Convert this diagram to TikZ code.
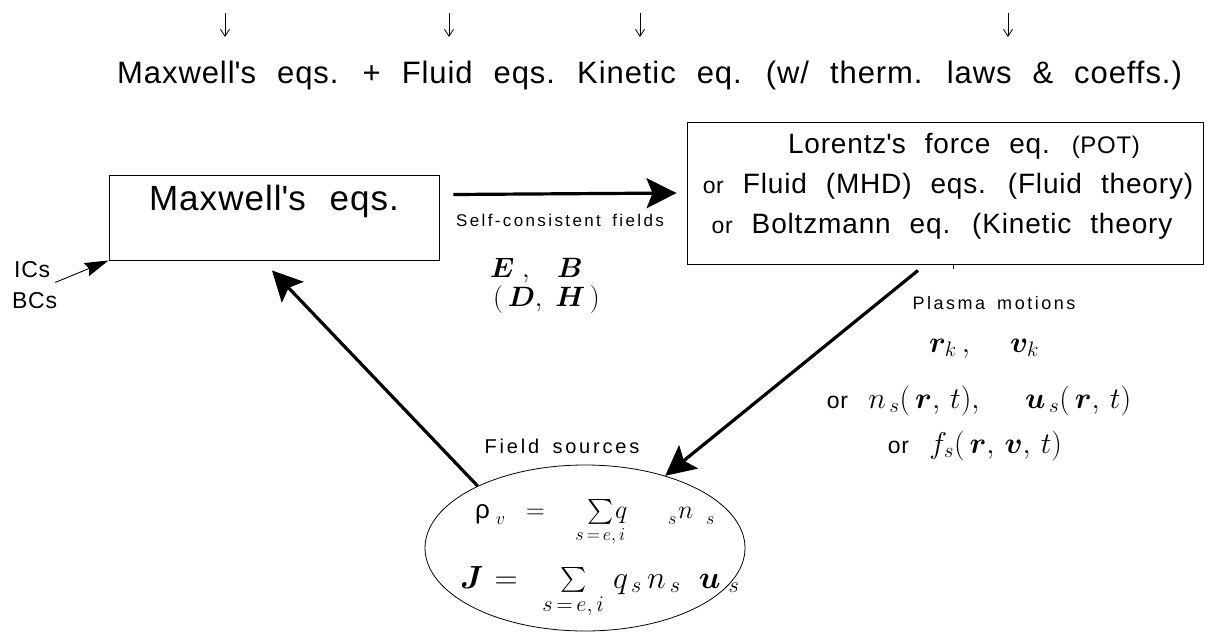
\RequirePackage{fix-cm}
\documentclass[tikz,border=0pt]{standalone}
\usepackage{amsmath,bm,exscale}
\usepackage[no-math]{fontspec}
\setmainfont{Liberation Sans}[WordSpace=2.2,LetterSpace=3]
\newfontfamily\smallsans{Liberation Sans}[WordSpace=1.6,LetterSpace=14]
\usetikzlibrary{arrows.meta,shapes.geometric}
\newcommand{\fsz}[2]{\fontsize{#1pt}{#2pt}\selectfont}
\newcommand{\q}{\textquotesingle}
\begin{document}
\begin{tikzpicture}[x=1pt,y=-1pt,
  box/.style={draw, line width=0.9pt, inner sep=0pt},
  txt/.style={inner sep=0pt, anchor=base west},
  etxt/.style={inner sep=0pt, anchor=base east},
  ctxt/.style={inner sep=0pt, anchor=base},
  toparrow/.style={line width=0.8pt, -{Straight Barb[length=7pt,width=9pt]}},
  bigarrow/.style={line width=3.2pt, -{Stealth[length=30pt,width=30pt,inset=6pt]}},
  thinarrow/.style={line width=0.9pt, -{Stealth[length=24pt,width=14pt,inset=3pt]}}]
\useasboundingbox (0,0) rectangle (1227,632);

% top arrows
\foreach \x/\n in {225/a1,449/a2,640/a3,1008/a4}{
  \coordinate (\n s) at (\x,13);
  \coordinate (\n e) at (\x,37);
  \draw[toparrow] (\n s) -- (\n e);
}

% top line
\node[txt, font=\fsz{31}{31}] (t1) at (117,83) {Maxwell\q s eqs. + Fluid eqs.};
\node[txt, font=\fsz{31}{31}] (t2) at (577,83) {Kinetic eq. (w/ therm. laws \& coeffs.)};

% Maxwell box
\node[box, minimum width=330pt, minimum height=85pt] (mx) at (274,217.5) {};
\node[ctxt, font=\fsz{35}{35}] (mxt) at (274,210) {Maxwell\q s eqs.};

% right box
\node[box, minimum width=516pt, minimum height=142pt] (rb) at (945,193) {};
\node[ctxt, font=\fsz{28}{28}] (l1) at (964,153) {Lorentz\q s force eq. {\fsz{24}{24}(POT)}};
\node[ctxt, font=\fsz{28}{28}] (l2) at (948,193) {{\fsz{23}{23}or} Fluid (MHD) eqs. (Fluid theory)};
\node[ctxt, font=\fsz{28}{28}] (l3) at (942,233) {{\fsz{23}{23}or} Boltzmann eq. (Kinetic theory};
\draw[line width=0.6pt] ([xshift=8pt]rb.south) -- ++(0,5);

% ICs / BCs
\node[txt, font=\fsz{23}{23}] (ics) at (14,277) {ICs};
\node[txt, font=\fsz{23}{23}] (bcs) at (12,308) {BCs};

% ellipse
\node[draw, ellipse, line width=0.8pt, minimum width=320pt, minimum height=166pt, inner sep=0pt] (el) at (585,548) {};

% labels
\node[ctxt, font=\smallsans\fsz{17}{17}] (scf) at (560,226) {Self-consistent fields};
\node[txt, font=\fsz{28}{28}] (e1) at (490,277) {$\bm{E}\;,$};
\node[etxt, font=\fsz{28}{28}] (e2) at (583,277) {$\bm{B}$};
\node[txt, font=\fsz{28}{28}] (d1) at (493,306) {$(\,\bm{D},$};
\node[etxt, font=\fsz{28}{28}] (d2) at (600,306) {$\bm{H}\,)$};

\node[ctxt, font=\smallsans\fsz{18}{18}] (pm) at (994,309) {Plasma motions};
\node[ctxt, font=\fsz{30}{30}] (m1) at (984,352) {$\bm{r}_k\,,\quad\, \bm{v}_k$};
\node[ctxt, font=\fsz{30}{30}] (m2) at (979,408) {{\fsz{23}{23}or}\ $n_{\,s}(\,\bm{r},\,t),\ \ \bm{u}_{\,s}(\,\bm{r},\,t)$};
\node[ctxt, font=\fsz{30}{30}] (m3) at (975,453) {{\fsz{23}{23}or} $f_s(\,\bm{r},\,\bm{v},\,t)$};

\node[ctxt, font=\smallsans\fsz{20}{20}] (fs) at (562,453) {Field sources};

% row 1 in the ellipse
\node[txt, font=\fsz{26}{26}] (r1a) at (475,518) {$\text{ρ}_{\hspace{6pt}v}$};
\node[txt, font=\fsz{26}{26}] (r1b) at (526,518) {$=$};
\node[txt, font=\fsz{26}{26}] (r1c) at (587,518) {$\sum\limits_{\makebox[0pt]{$\scriptstyle s\,=\,e,\,i$}}$};
\node[txt, font=\fsz{26}{26}] (r1d) at (615,518) {$q$};
\node[txt, font=\fsz{18}{18}] (r1e) at (668,524) {$s$};
\node[txt, font=\fsz{26}{26}] (r1f) at (678,518) {$n$};
\node[txt, font=\fsz{18}{18}] (r1g) at (706,524) {$s$};
% row 2 in the ellipse
\node[txt, font=\fsz{32}{32}] (r2) at (460,588) {$\bm{J}\hspace{2pt}=\hspace{16pt}\sum\limits_{s\,=\,e,\,i}\hspace{4pt}q_{\hspace{4pt}s}\,n_{\hspace{4pt}s}\hspace{18pt}\bm{u}_{\hspace{8pt}s}$};

% connectors
\draw[bigarrow] ([shift={(14,-23)}]mx.east) -- ([shift={(-10,0)}]rb.west);
\draw[bigarrow] ([shift={(-27,6)}]rb.south) -- (el.42);
\draw[bigarrow] (el.150) -- ([shift={(-2,10)}]mx.south);
\draw[thinarrow] ([shift={(5,5)}]ics.south east) -- (mx.south west);
\end{tikzpicture}
\end{document}
